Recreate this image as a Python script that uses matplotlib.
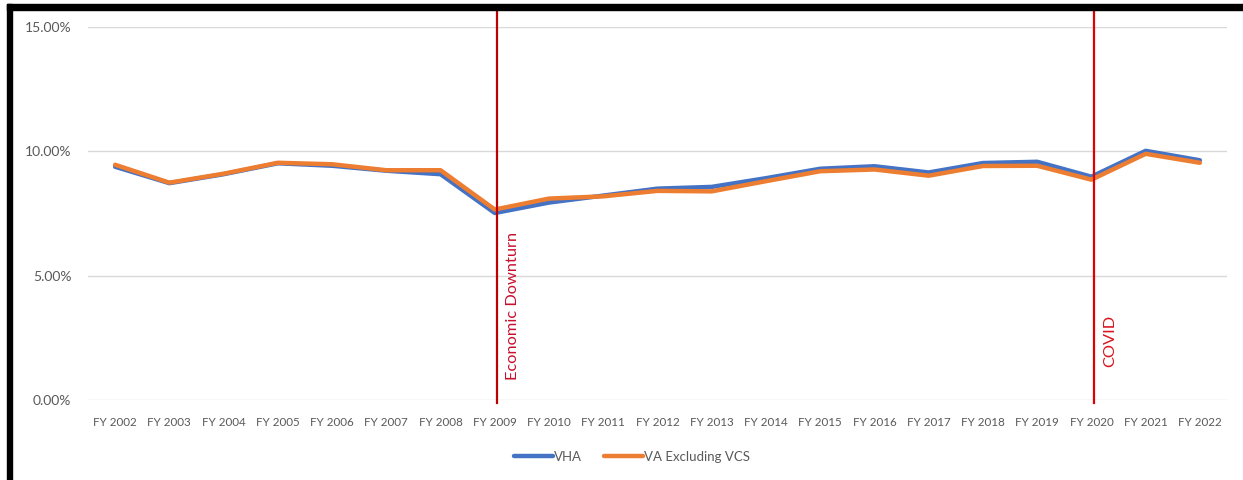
import matplotlib
matplotlib.use("Agg")
import matplotlib.pyplot as plt
from matplotlib.patches import Rectangle
from matplotlib.ticker import FuncFormatter

plt.rcParams['font.family'] = ['Lato', 'DejaVu Sans']

years = ["FY 2002", "FY 2003", "FY 2004", "FY 2005", "FY 2006", "FY 2007", "FY 2008",
         "FY 2009", "FY 2010", "FY 2011", "FY 2012", "FY 2013", "FY 2014", "FY 2015",
         "FY 2016", "FY 2017", "FY 2018", "FY 2019", "FY 2020", "FY 2021", "FY 2022"]
vha = [9.38, 8.72, 9.08, 9.52, 9.42, 9.22, 9.08, 7.52, 7.94, 8.22, 8.50, 8.57,
       8.92, 9.30, 9.40, 9.15, 9.53, 9.58, 8.98, 10.02, 9.64]
va_excl_vcs = [9.46, 8.74, 9.10, 9.54, 9.48, 9.24, 9.24, 7.66, 8.10, 8.19, 8.41, 8.39,
               8.80, 9.20, 9.27, 9.02, 9.41, 9.42, 8.86, 9.90, 9.54]
events = {"Economic Downturn": "FY 2009", "COVID": "FY 2020"}
y_ticks = [0, 5, 10, 15]

W, H = 1243, 480
fig = plt.figure(figsize=(W / 100, H / 100), dpi=100)
ax = fig.add_axes([88 / W, 1 - 400 / H, (1227 - 88) / W, (400 - 27) / H])

x = list(range(len(years)))
ax.plot(x, vha, color="#4472C4", lw=3.2, solid_capstyle="round", label="VHA", zorder=3)
ax.plot(x, va_excl_vcs, color="#ED7D31", lw=3.2, solid_capstyle="round",
        label="VA Excluding VCS", zorder=4)

ax.set_xlim(-0.5, len(years) - 0.5)
ax.set_ylim(0, 15)
ax.set_yticks(y_ticks)
ax.yaxis.set_major_formatter(FuncFormatter(lambda v, p: f"{v:.2f}%"))
ax.set_xticks(x)
ax.set_xticklabels(years)
ax.grid(axis="y", color="#D9D9D9", lw=1)
ax.set_axisbelow(True)
for s in ax.spines.values():
    s.set_visible(False)
ax.tick_params(axis="both", length=0, colors="#595959")
ax.tick_params(axis="x", pad=12, labelsize=8.4)
ax.tick_params(axis="y", pad=12, labelsize=10)

# event markers
text_offsets = {"Economic Downturn": (0.33, 0.8, "#C8102E"), "COVID": (0.35, 1.33, "#D9141E")}
line_colors = {"Economic Downturn": "#C00000", "COVID": "#E00000"}
for name, yr in events.items():
    xi = years.index(yr)
    ax.axvline(xi + 0.04, ymin=-0.008, ymax=1.045, color=line_colors[name], lw=1.6,
               clip_on=False, zorder=5)
    dx, yb, tc = text_offsets[name]
    ax.text(xi + dx, yb, name, rotation=90, ha="center", va="bottom",
            color=tc, fontsize=11.8)

fig.legend(loc="center", bbox_to_anchor=(632 / W, 1 - 457 / H), ncol=2, frameon=False,
           fontsize=9.5, handlelength=3.0, handletextpad=0.1, columnspacing=1.6,
           labelcolor="#595959")

# outer frame (top and left edges)
fig.patches.append(Rectangle((7 / W, 1 - 10 / H), 1 - 7 / W, 6 / H,
                             transform=fig.transFigure, color="black", zorder=10))
fig.patches.append(Rectangle((7 / W, 0), 5 / W, 1 - 4 / H,
                             transform=fig.transFigure, color="black", zorder=10))

fig.savefig("out.png", dpi=100)
